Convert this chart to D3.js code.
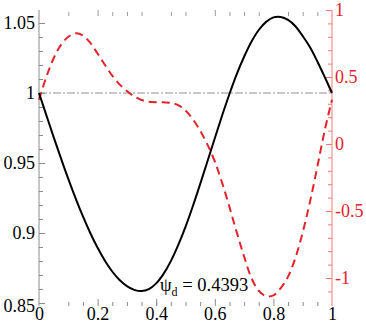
<!DOCTYPE html>
<html><head><meta charset="utf-8">
<script src="https://cdn.jsdelivr.net/npm/d3@7"></script>
<style>html,body{margin:0;padding:0;background:#fff}svg{display:block}</style>
</head><body><svg id="c" width="366" height="325"></svg>
<script>
const xs = [0,0.025,0.05,0.075,0.1,0.125,0.15,0.175,0.2,0.225,0.25,0.275,0.3,0.325,0.35,0.375,0.4,0.425,0.45,0.475,0.5,0.525,0.55,0.575,0.6,0.625,0.65,0.675,0.7,0.725,0.75,0.775,0.8,0.825,0.85,0.875,0.9,0.925,0.95,0.975,1];
const blackVals = [1.000,0.9842,0.9685,0.9533,0.9386,0.9247,0.9118,0.9000,0.8894,0.8802,0.8725,0.8664,0.8621,0.8594,0.8585,0.8599,0.8640,0.8708,0.8799,0.8913,0.9044,0.9191,0.9349,0.9512,0.9677,0.9839,0.9993,1.0135,1.0259,1.0366,1.0450,1.0508,1.0540,1.0543,1.0522,1.0477,1.0407,1.0326,1.0225,1.0115,1.000];
const redVals = [0.33,0.50,0.64,0.74,0.80,0.826,0.81,0.755,0.675,0.59,0.51,0.445,0.395,0.355,0.328,0.316,0.312,0.311,0.307,0.29,0.25,0.185,0.10,-0.005,-0.13,-0.29,-0.47,-0.66,-0.84,-1.0,-1.095,-1.135,-1.13,-1.075,-0.99,-0.85,-0.66,-0.43,-0.17,0.10,0.33];
const xTickLabels = [0,0.2,0.4,0.6,0.8,1];
const xBottomMinor = [0.1,0.15,0.25,0.3,0.35,0.4,0.45,0.5,0.55,0.65,0.7,0.75,0.85,0.9,0.95];
const xTopMinor = [0.1,0.25,0.3,0.35,0.45,0.5,0.65,0.7,0.75,0.85,0.9,0.95];
const xTopMajor = [0.2,0.6];
const leftMajor = [0.85,0.9,0.95,1,1.05];
const leftLabels = ["0.85","0.9","0.95","1","1.05"];
const leftMinor = d3.range(0.86,1.055,0.01).filter(v=>Math.abs(v*20-Math.round(v*20))>0.01);
const rightMajor = [-1,-0.5,0,0.5,1];
const rightLabels = ["-1","-0.5","0","0.5","1"];
const rightMinor = d3.range(-1.1,1,0.1).filter(v=>Math.abs(v*2-Math.round(v*2))>0.01);
const refLevel = 1;
const annotValue = "0.4393";

const FONT = "'Liberation Serif','Times New Roman',serif";
const svg = d3.select("#c");
const x = d3.scaleLinear().domain([0,1]).range([39,332]);
const yL = d3.scaleLinear().domain([0.85,1.05]).range([303,23]);
const yR = d3.scaleLinear().domain([-1,1]).range([278,10]);
const gray = "#8a8a8a", lred = "#f07878", red = "#e3222b";

svg.append("line").attr("x1",x(0)).attr("x2",x(0)).attr("y1",yR(1)).attr("y2",306).attr("stroke",gray).attr("stroke-width",1);
svg.append("line").attr("x1",x(1)).attr("x2",x(1)).attr("y1",yR(1)).attr("y2",306).attr("stroke",lred).attr("stroke-width",1);

function clean(g){ g.select(".domain").remove(); g.attr("font-family",null).attr("font-size",null); }

const gL = svg.append("g").attr("transform",`translate(${x(0)},0)`);
gL.call(d3.axisLeft(yL).tickValues(leftMinor).tickSizeInner(-4).tickSizeOuter(0).tickFormat("")).call(clean);
const gL2 = svg.append("g").attr("transform",`translate(${x(0)},0)`);
gL2.call(d3.axisLeft(yL).tickValues(leftMajor).tickSizeInner(-6).tickSizeOuter(0).tickPadding(4).tickFormat((d,i)=>leftLabels[i])).call(clean);
gL.selectAll("line").attr("stroke",gray);
gL2.selectAll("line").attr("stroke",gray);
gL2.selectAll("text").style("font-family",FONT).attr("font-size",18).attr("fill","#000");
gL2.selectAll(".tick").filter(d=>d===0.85).select("text").attr("dy","0.45em");

const gR = svg.append("g").attr("transform",`translate(${x(1)},0)`);
gR.call(d3.axisRight(yR).tickValues(rightMinor).tickSizeInner(-4).tickSizeOuter(0).tickFormat("")).call(clean);
const gR2 = svg.append("g").attr("transform",`translate(${x(1)},0)`);
gR2.call(d3.axisRight(yR).tickValues(rightMajor).tickSizeInner(-6).tickSizeOuter(0).tickPadding(3).tickFormat((d,i)=>rightLabels[i])).call(clean);
gR.selectAll("line").attr("stroke",lred);
gR2.selectAll("line").attr("stroke",lred);
gR2.selectAll("text").style("font-family",FONT).attr("font-size",18).attr("fill",red);

const gB = svg.append("g").attr("transform","translate(0,306)");
gB.call(d3.axisBottom(x).tickValues(xBottomMinor).tickSizeInner(-4).tickSizeOuter(0).tickFormat("")).call(clean);
const gB2 = svg.append("g").attr("transform","translate(0,306)");
gB2.call(d3.axisBottom(x).tickValues(xTickLabels).tickSizeInner(-7).tickSizeOuter(0).tickFormat(d=>String(d))).call(clean);
gB.selectAll("line").attr("stroke",gray);
gB2.selectAll("line").attr("stroke",gray);
gB2.selectAll(".tick").filter(d=>d===0||d===1).select("line").remove();
gB2.selectAll("text").style("font-family",FONT).attr("font-size",18).attr("fill","#000").attr("y",1).attr("dy","0.71em");

const gT = svg.append("g").attr("transform","translate(0,16)");
gT.call(d3.axisTop(x).tickValues(xTopMinor).tickSizeInner(4).tickSizeOuter(0).tickFormat("")).call(clean);
const gT2 = svg.append("g").attr("transform","translate(0,16)");
gT2.call(d3.axisTop(x).tickValues(xTopMajor).tickSizeInner(6).tickSizeOuter(0).tickFormat("")).call(clean);
gT.selectAll("line").attr("stroke","#999");
gT2.selectAll("line").attr("stroke","#999");

svg.append("line").attr("x1",x(0)).attr("x2",x(1)).attr("y1",yL(refLevel)).attr("y2",yL(refLevel))
  .attr("stroke","#8f8f8f").attr("stroke-width",1.2).attr("stroke-dasharray","8,2,2,2");

const lineR = d3.line().x((d,i)=>x(xs[i])).y(d=>yR(d)).curve(d3.curveCatmullRom);
svg.append("path").attr("d",lineR(redVals)).attr("fill","none").attr("stroke",red).attr("stroke-width",2).attr("stroke-dasharray","8,5");

const lineB = d3.line().x((d,i)=>x(xs[i])).y(d=>yL(d)).curve(d3.curveCatmullRom);
svg.append("path").attr("d",lineB(blackVals)).attr("fill","none").attr("stroke","#000").attr("stroke-width",2);

const t = svg.append("text").attr("x",160).attr("y",291).style("font-family",FONT).attr("font-size",18.5).attr("fill","#000");
t.append("tspan").text("ψ");
t.append("tspan").attr("font-size",12).attr("dy",5).text("d");
t.append("tspan").attr("dy",-5).text(" = "+annotValue);
</script></body></html>
